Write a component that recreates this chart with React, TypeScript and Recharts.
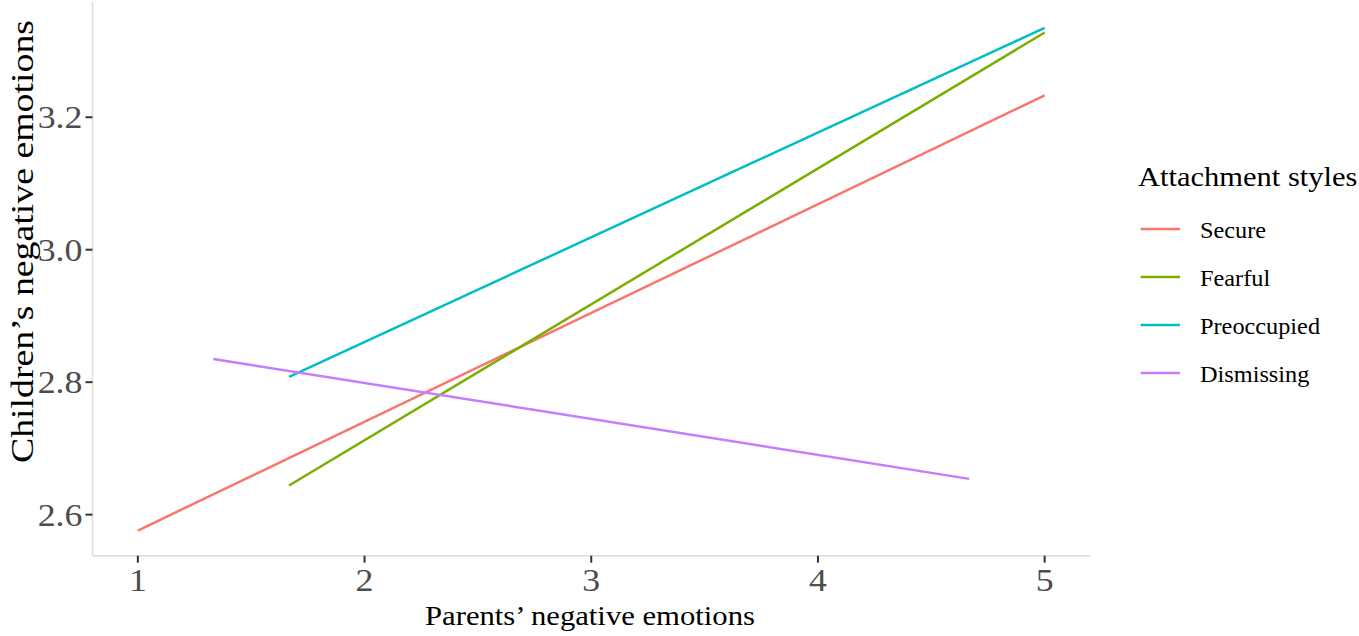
import React from "react";
import { LineChart, Line, XAxis, YAxis, Legend, Label } from "recharts";

const xTicks = [1, 2, 3, 4, 5];
const yTicks = [2.6, 2.8, 3.0, 3.2];

const seriesNames = ["Secure", "Fearful", "Preoccupied", "Dismissing"];
const seriesColors = ["#F8766D", "#7CAE00", "#00BFC4", "#C77CFF"];

const secureX = [1, 5];
const secureY = [2.576, 3.233];
const fearfulX = [1.667, 5];
const fearfulY = [2.644, 3.328];
const preoccupiedX = [1.667, 5];
const preoccupiedY = [2.808, 3.335];
const dismissingX = [1.333, 4.667];
const dismissingY = [2.835, 2.654];

const toPoints = (xs: number[], ys: number[]) => xs.map((x, i) => ({ x, y: ys[i] }));

const seriesData = [
  toPoints(secureX, secureY),
  toPoints(fearfulX, fearfulY),
  toPoints(preoccupiedX, preoccupiedY),
  toPoints(dismissingX, dismissingY),
];

const FONT = '"Liberation Serif", "Times New Roman", serif';

function XTick(p: any) {
  return (
    <text
      transform={`translate(${p.x},${p.y + 23}) scale(1.12,1)`}
      textAnchor="middle"
      fontFamily={FONT}
      fontSize={32}
      fill="#4d4d4d"
    >
      {p.payload.value}
    </text>
  );
}

function YTick(p: any) {
  return (
    <text
      transform={`translate(${p.x},${p.y + 11}) scale(1.12,1)`}
      textAnchor="end"
      fontFamily={FONT}
      fontSize={32}
      fill="#4d4d4d"
    >
      {Number(p.payload.value).toFixed(1)}
    </text>
  );
}

function LegendBox(props: any) {
  const items = [...(props.payload || [])].sort(
    (a: any, b: any) => seriesNames.indexOf(a.value) - seriesNames.indexOf(b.value)
  );
  return (
    <svg width={229} height={260} style={{ display: "block" }}>
      <text transform="translate(8,36) scale(1.09,1)" fontFamily={FONT} fontSize={28} fill="#000">
        Attachment styles
      </text>
      {items.map((it: any, i: number) => (
        <g key={it.value}>
          <line x1={10.7} x2={50} y1={79 + i * 48} y2={79 + i * 48} stroke={it.color} strokeWidth={2.5} />
          <text
            transform={`translate(70,${87.5 + i * 48}) scale(1.08,1)`}
            fontFamily={FONT}
            fontSize={22.5}
            fill="#000"
          >
            {it.value}
          </text>
        </g>
      ))}
    </svg>
  );
}

export default function App() {
  return (
    <div style={{ position: "absolute", left: 0, top: 0, background: "#fff", fontFamily: FONT }}>
      <LineChart
        width={1359}
        height={636}
        margin={{ top: 2, right: 269, bottom: 0, left: 0 }}
        style={{ fontFamily: FONT }}
      >
        <XAxis
          dataKey="x"
          type="number"
          domain={[0.8, 5.2]}
          ticks={xTicks}
          allowDataOverflow
          height={80.3}
          axisLine={{ stroke: "#dcdcdc", strokeWidth: 1.5 }}
          tickLine={{ stroke: "#333", strokeWidth: 2 }}
          tickSize={7}
          tickMargin={5}
          tick={XTick}
        >
          <Label
            content={() => (
              <text
                x={425}
                y={625}
                textLength={330}
                lengthAdjust="spacingAndGlyphs"
                fontFamily={FONT}
                fontSize={28}
                fill="#000"
              >
                Parents’ negative emotions
              </text>
            )}
          />
        </XAxis>
        <YAxis
          type="number"
          domain={[2.538, 3.374]}
          ticks={yTicks}
          allowDataOverflow
          width={92.5}
          axisLine={{ stroke: "#dcdcdc", strokeWidth: 1.5 }}
          tickLine={{ stroke: "#333", strokeWidth: 2 }}
          tickSize={7}
          tickMargin={3}
          tick={YTick}
        >
          <Label
            content={() => (
              <text
                x={33}
                y={463}
                transform="rotate(-90, 33, 463)"
                textLength={443}
                lengthAdjust="spacingAndGlyphs"
                fontFamily={FONT}
                fontSize={31}
                fill="#000"
              >
                Children’s negative emotions
              </text>
            )}
          />
        </YAxis>
        <Legend
          layout="vertical"
          align="center"
          verticalAlign="middle"
          wrapperStyle={{ left: 1130, top: 150, width: 229 }}
          content={LegendBox}
        />
        {seriesNames.map((name, i) => (
          <Line
            key={name}
            data={seriesData[i]}
            dataKey="y"
            name={name}
            stroke={seriesColors[i]}
            strokeWidth={2.5}
            dot={false}
            activeDot={false}
            isAnimationActive={false}
          />
        ))}
      </LineChart>
    </div>
  );
}
